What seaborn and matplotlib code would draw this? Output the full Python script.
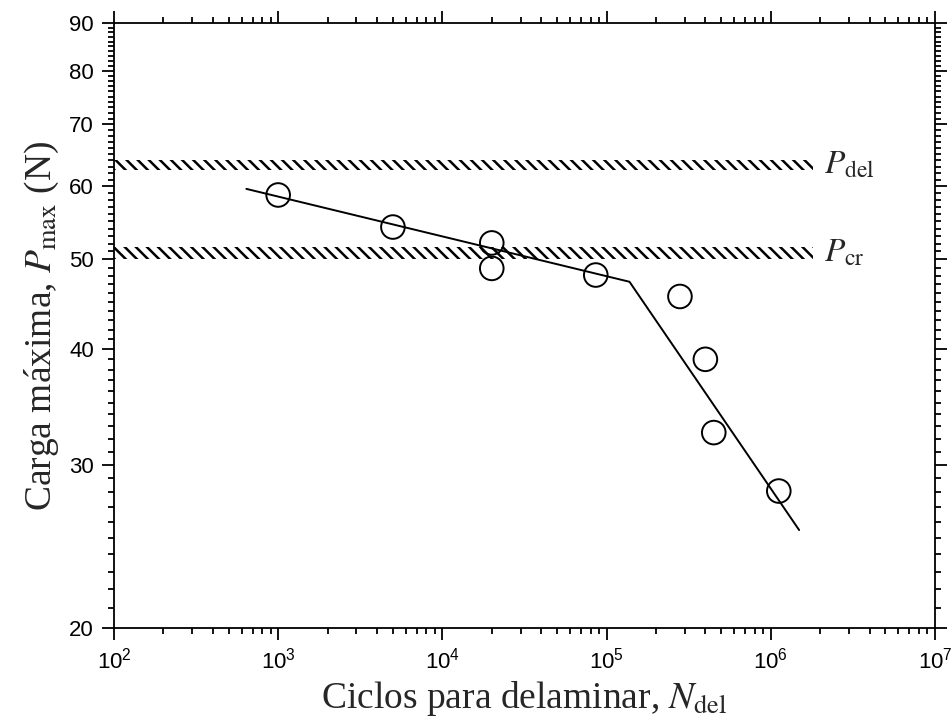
import matplotlib
matplotlib.use("Agg")
import matplotlib.pyplot as plt
import matplotlib.ticker as mticker
import numpy as np
import pandas as pd
import seaborn as sns

# ---- data ----
cycles = [1.0e3, 5.0e3, 2.0e4, 2.0e4, 8.6e4, 2.8e5, 4.0e5, 4.5e5, 1.12e6]
load = [58.7, 54.2, 52.1, 48.9, 48.1, 45.6, 39.0, 32.5, 28.1]

fit_cycles = [6.4e2, 1.38e5, 1.49e6]
fit_load = [59.6, 47.3, 25.5]

band_x = [1.0e2, 1.8e6]
p_del_band = [62.4, 64.0]
p_cr_band = [50.1, 51.6]

y_ticks = [20, 30, 40, 50, 60, 70, 80, 90]

sns.set_style("ticks")
plt.rcParams["font.family"] = ["Liberation Sans", "DejaVu Sans"]
plt.rcParams["mathtext.fontset"] = "stix"
plt.rcParams["hatch.linewidth"] = 1.8
plt.rcParams["axes.linewidth"] = 1.3

fig = plt.figure(figsize=(9.53, 7.26), dpi=100)
ax = fig.add_axes([0.1196, 0.1354, 0.8614, 0.8326])

ax.set_xscale("log")
ax.set_yscale("log")

# hatched bands
for band in (p_del_band, p_cr_band):
    ax.fill_between(band_x, band[0], band[1], facecolor="none", edgecolor="black",
                    hatch="\\\\\\", linewidth=0)

df_pts = pd.DataFrame({"N": cycles, "P": load})
df_fit = pd.DataFrame({"N": fit_cycles, "P": fit_load})

sns.lineplot(data=df_fit, x="N", y="P", sort=False, color="black", linewidth=1.4, ax=ax)
sns.scatterplot(data=df_pts, x="N", y="P", marker="o", s=17**2, facecolor="none",
                edgecolor="black", linewidth=1.4, ax=ax, zorder=5)

ax.set_xlim(1e2, 1e7)
ax.set_ylim(20, 90)

# ticks
ax.xaxis.set_major_locator(mticker.LogLocator(base=10, numticks=10))
ax.xaxis.set_minor_locator(mticker.LogLocator(base=10, subs=np.arange(2, 10), numticks=20))
ax.xaxis.set_minor_formatter(mticker.NullFormatter())
ax.xaxis.set_major_formatter(mticker.FuncFormatter(
    lambda v, p: r"$\mathregular{10^{%d}}$" % int(round(np.log10(v)))))

ax.yaxis.set_major_locator(mticker.FixedLocator(y_ticks))
ax.yaxis.set_minor_locator(mticker.FixedLocator(np.arange(21, 90, 1)))
ax.yaxis.set_major_formatter(mticker.FuncFormatter(lambda v, p: "%d" % v))
ax.yaxis.set_minor_formatter(mticker.NullFormatter())

ax.tick_params(which="both", direction="out", top=True, right=True, width=1.3,
               labelsize=16, colors="black")
ax.tick_params(which="major", length=8.5, pad=6)
ax.tick_params(which="minor", length=4.5)
for s in ax.spines.values():
    s.set_visible(True)
    s.set_color("black")

serif = ["Liberation Serif", "DejaVu Serif"]
ax.set_xlabel(r"Ciclos para delaminar, $\mathit{N}_{\mathrm{del}}$", fontsize=27,
              family=serif, labelpad=4)
ax.set_ylabel(r"Carga máxima, $\mathit{P}_{\mathrm{max}}$ (N)", fontsize=27,
              family=serif, labelpad=6)

ax.text(2.1e6, 63.2, r"$\mathit{P}_{\mathrm{del}}$", fontsize=24, va="center", ha="left")
ax.text(2.1e6, 50.8, r"$\mathit{P}_{\mathrm{cr}}$", fontsize=24, va="center", ha="left")

ax.grid(False)
fig.savefig("out.png", dpi=100)
